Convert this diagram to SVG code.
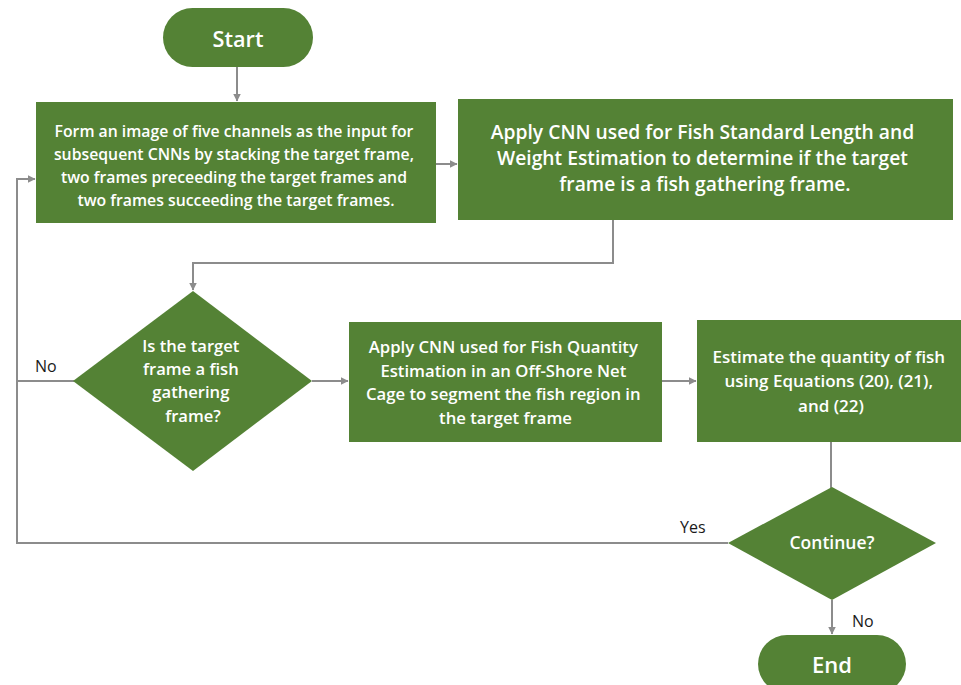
<svg xmlns="http://www.w3.org/2000/svg" width="961" height="685" viewBox="0 0 961 685">
  <style>
    .shape { fill: #548235; }
    .t { font-family: "Open Sans", "Liberation Sans", sans-serif; font-weight: 600; fill: #ffffff; text-anchor: middle; }
    .lbl { font-family: "Open Sans", "Liberation Sans", sans-serif; font-size: 16px; fill: #1a1a1a; }
    .wire { fill: none; stroke: #8c8c8c; stroke-width: 2; }
  </style>
  <defs>
    <marker id="arrow" viewBox="0 0 8 8" refX="7.5" refY="4" markerWidth="4" markerHeight="4" orient="auto" markerUnits="strokeWidth">
      <path d="M0,0 L8,4 L0,8 Z" fill="#8c8c8c"/>
    </marker>
  </defs>
  <rect width="961" height="685" fill="#ffffff"/>

  <!-- connectors -->
  <g id="connectors">
    <path class="wire" d="M237,67 V101" marker-end="url(#arrow)"/>
    <path class="wire" d="M436,164 H457" marker-end="url(#arrow)"/>
    <path class="wire" d="M613,220 V263 H193 V290" marker-end="url(#arrow)"/>
    <path class="wire" d="M312,381 H348" marker-end="url(#arrow)"/>
    <path class="wire" d="M662,381 H696" marker-end="url(#arrow)"/>
    <path class="wire" d="M831,442 V488"/>
    <path class="wire" d="M832,600 V634" marker-end="url(#arrow)"/>
    <path class="wire" d="M728,543 H17 V179 H35" marker-end="url(#arrow)"/>
    <path class="wire" d="M74,381 H17"/>
    <text class="lbl" x="35" y="372">No</text>
    <text class="lbl" x="680" y="533">Yes</text>
    <text class="lbl" x="852" y="627">No</text>
  </g>

  <!-- start terminal -->
  <g id="start">
    <rect class="shape" x="163" y="8" width="150" height="59" rx="29.5"/>
    <text class="t" x="238" y="47" font-size="21.7">Start</text>
  </g>

  <!-- stack frames into a five-channel image -->
  <g id="stack-frames">
    <rect class="shape" x="36" y="102" width="400" height="121"/>
    <text class="t" font-size="15.8">
      <tspan x="236" y="137">Form an image of five channels as the input for</tspan>
      <tspan x="236" y="160">subsequent CNNs by stacking the target frame,</tspan>
      <tspan x="236" y="183">two frames preceeding the target frames and</tspan>
      <tspan x="236" y="206">two frames succeeding the target frames.</tspan>
    </text>
  </g>

  <!-- gathering-frame classification -->
  <g id="classify-frame">
    <rect class="shape" x="458" y="99" width="495" height="121"/>
    <text class="t" font-size="19.25">
      <tspan x="705" y="139">Apply CNN used for Fish Standard Length and</tspan>
      <tspan x="705" y="165">Weight Estimation to determine if the target</tspan>
      <tspan x="705" y="191">frame is a fish gathering frame.</tspan>
    </text>
  </g>

  <!-- decision: gathering frame? -->
  <g id="is-gathering">
    <polygon class="shape" points="193,291 312,381 193,471 73,381"/>
    <text class="t" font-size="16.6">
      <tspan x="193" y="352">Is the target</tspan>
      <tspan x="193" y="375">frame a fish</tspan>
      <tspan x="193" y="398">gathering</tspan>
      <tspan x="193" y="422">frame?</tspan>
    </text>
  </g>

  <!-- segmentation -->
  <g id="segment-fish">
    <rect class="shape" x="349" y="322" width="313" height="120"/>
    <text class="t" font-size="16.7">
      <tspan x="505.5" y="353">Apply CNN used for Fish Quantity</tspan>
      <tspan x="505.5" y="377">Estimation in an Off-Shore Net</tspan>
      <tspan x="505.5" y="400">Cage to segment the fish region in</tspan>
      <tspan x="505.5" y="424">the target frame</tspan>
    </text>
  </g>

  <!-- quantity estimate -->
  <g id="estimate-quantity">
    <rect class="shape" x="697" y="320" width="270" height="122"/>
    <text class="t" font-size="17">
      <tspan x="831" y="363">Estimate the quantity of fish</tspan>
      <tspan x="831" y="387">using Equations (20), (21),</tspan>
      <tspan x="831" y="412">and (22)</tspan>
    </text>
  </g>

  <!-- decision: continue? -->
  <g id="continue">
    <polygon class="shape" points="832,487 936,543 832,600 728,543"/>
    <text class="t" x="832" y="549" font-size="17.5">Continue?</text>
  </g>

  <!-- end terminal -->
  <g id="end">
    <rect class="shape" x="758" y="635" width="148" height="58" rx="29"/>
    <text class="t" x="832" y="673" font-size="22">End</text>
  </g>
</svg>
